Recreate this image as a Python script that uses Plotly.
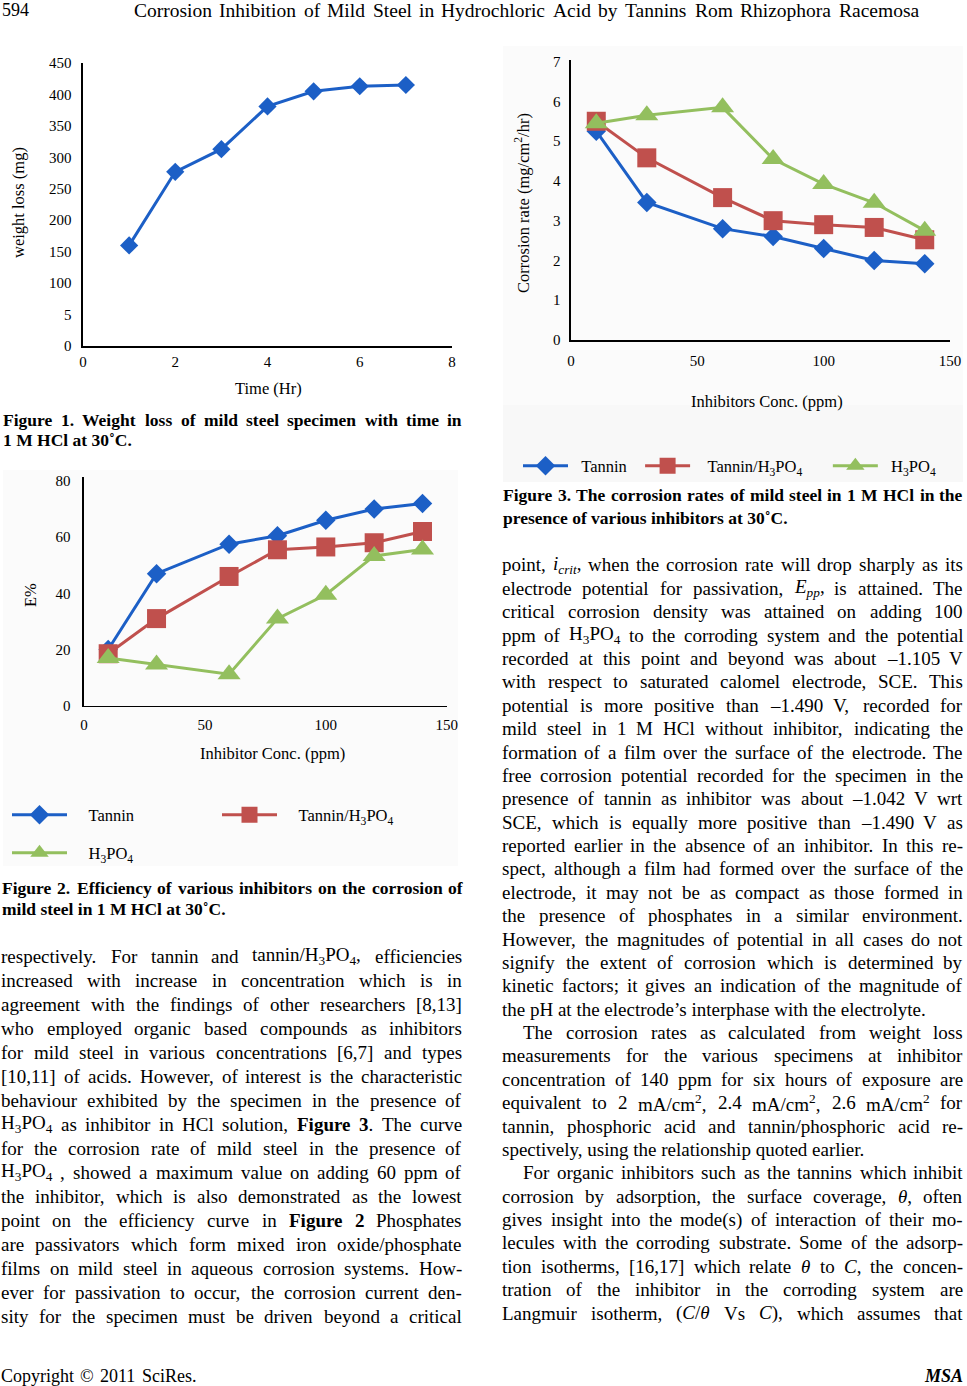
import re
import plotly.graph_objects as go

W, H = 967, 1386
SERIF = "Liberation Serif, Times New Roman, Times, serif"
NB = "\u00a0"

# ---------------- data ----------------
time_hr = [1, 2, 3, 4, 5, 6, 7]
weight_loss_mg = [160, 277, 313, 381, 405, 413, 415]
weight_ticks = [0, 50, 100, 150, 200, 250, 300, 350, 400, 450]
weight_ticktext = ["0", "5", "100", "150", "200", "250", "300", "350", "400", "450"]
time_ticks = [0, 2, 4, 6, 8]

conc_ppm = [10, 30, 60, 80, 100, 120, 140]
eff_tannin = [20, 47, 57.5, 60.5, 66, 70, 72]
eff_tannin_h3po4 = [18.5, 31, 46, 55.5, 56.5, 58, 62]
eff_h3po4 = [17, 14.7, 11.2, 31, 39.5, 53.3, 55.6]
eff_ticks = [0, 20, 40, 60, 80]

rate_tannin = [5.25, 3.46, 2.8, 2.6, 2.3, 2.0, 1.92]
rate_tannin_h3po4 = [5.5, 4.58, 3.58, 3.0, 2.9, 2.83, 2.52]
rate_h3po4 = [5.45, 5.65, 5.85, 4.55, 3.92, 3.45, 2.75]
rate_ticks = [0, 1, 2, 3, 4, 5, 6, 7]
conc_ticks = [0, 50, 100, 150]

series_names = ["Tannin", "Tannin/H<sub>3</sub>PO<sub>4</sub>", "H<sub>3</sub>PO<sub>4</sub>"]
series_colors = ["#1c5fc6", "#c0504d", "#93bf5e"]
series_symbols = ["diamond", "square", "triangle-up"]
series_sizes = [15, 19, 20]

header_num = "594"
header_title = "Corrosion Inhibition of Mild Steel in Hydrochloric Acid by Tannins Rom Rhizophora Racemosa"
footer_left = "Copyright © 2011 SciRes."
footer_right = "MSA"

caption1 = ["Figure 1. Weight loss of mild steel specimen with time in", "1  M HCl at 30˚C."]
caption2 = ["Figure 2. Efficiency of various inhibitors on the corrosion of", "mild steel in 1  M HCl at 30˚C."]
caption3 = ["Figure 3. The corrosion rates of mild steel in 1 M HCl in the", "presence of various inhibitors at 30˚C."]

left_lines = [
    "respectively. For tannin and tannin/H<sub>3</sub>PO<sub>4</sub>, efficiencies",
    "increased with increase in concentration which is in",
    "agreement with the findings of other researchers [8,13]",
    "who employed organic based compounds as inhibitors",
    "for mild steel in various concentrations [6,7] and types",
    "[10,11] of acids. However, of interest is the characteristic",
    "behaviour exhibited by the specimen in the presence of",
    "H<sub>3</sub>PO<sub>4</sub> as inhibitor in HCl solution, <b>Figure</b> <b>3</b>. The curve",
    "for the corrosion rate of mild steel in the presence of",
    "H<sub>3</sub>PO<sub>4</sub> , showed a maximum value on adding 60 ppm of",
    "the inhibitor, which is also demonstrated as the lowest",
    "point on the efficiency curve in <b>Figure</b> <b>2</b>  Phosphates",
    "are passivators which form mixed iron oxide/phosphate",
    "films on mild steel in aqueous corrosion systems. How-",
    "ever for passivation to occur, the corrosion current den-",
    "sity for the specimen must be driven beyond a critical",
]

right_lines = [
    "point, <i>i</i><sub><i>crit</i></sub>, when the corrosion rate will drop sharply as its",
    "electrode potential for passivation, <i>E</i><sub><i>pp</i></sub>, is attained. The",
    "critical corrosion density was attained on adding 100",
    "ppm of H<sub>3</sub>PO<sub>4</sub> to the corroding system and the potential",
    "recorded at this point and beyond was about –1.105 V",
    "with respect to saturated calomel electrode, SCE. This",
    "potential is more positive than –1.490 V, recorded for",
    "mild steel in 1 M HCl without inhibitor, indicating the",
    "formation of a film over the surface of the electrode. The",
    "free corrosion potential recorded for the specimen in the",
    "presence of tannin as inhibitor was about –1.042 V wrt",
    "SCE, which is equally more positive than –1.490 V as",
    "reported earlier in the absence of an inhibitor. In this re-",
    "spect, although a film had formed over the surface of the",
    "electrode, it may not be as compact as those formed in",
    "the presence of phosphates in a similar environment.",
    "However, the magnitudes of potential in all cases do not",
    "signify the extent of corrosion which is determined by",
    "kinetic factors; it gives an indication of the magnitude of",
    "the pH at the electrode’s interphase with the electrolyte.",
    "The corrosion rates as calculated from weight loss",
    "measurements for the various specimens at inhibitor",
    "concentration of 140 ppm for six hours of exposure are",
    "equivalent to 2 mA/cm<sup>2</sup>, 2.4 mA/cm<sup>2</sup>, 2.6 mA/cm<sup>2</sup> for",
    "tannin, phosphoric acid and tannin/phosphoric acid re-",
    "spectively, using the relationship quoted earlier.",
    "For organic inhibitors such as the tannins which inhibit",
    "corrosion by adsorption, the surface coverage, <i>θ</i>, often",
    "gives insight into the mode(s) of interaction of their mo-",
    "lecules with the corroding substrate. Some of the adsorp-",
    "tion isotherms, [16,17] which relate <i>θ</i> to <i>C</i>, the concen-",
    "tration of the inhibitor in the corroding system are",
    "Langmuir isotherm, (<i>C</i>/<i>θ</i> Vs <i>C</i>), which assumes that",
]
right_para_end = {19, 25}
right_para_start = {20, 26}

# ---------------- text metrics (Times-like advance widths, 1/1000 em) ----------------
REG = dict(zip(" !\"#$%&'()*+,-./0123456789:;<=>?@", [250,333,408,500,500,833,778,180,333,333,500,564,250,333,250,278] + [500]*10 + [278,278,564,564,564,444,921]))
REG.update(dict(zip("ABCDEFGHIJKLMNOPQRSTUVWXYZ", [722,667,667,722,611,556,722,722,333,389,722,611,889,722,722,556,722,667,556,611,722,722,944,722,722,611])))
REG.update(dict(zip("abcdefghijklmnopqrstuvwxyz", [444,500,444,500,444,333,500,500,278,278,500,278,778,500,500,500,500,333,389,278,500,500,722,500,500,444])))
REG.update({"[": 333, "]": 333, "–": 500, "’": 333, "˚": 400, "©": 760, "θ": 500})
BOLD = dict(REG)
BOLD.update(dict(zip("ABCDEFGHIJKLMNOPQRSTUVWXYZ", [722,667,722,722,667,611,778,778,389,500,778,667,944,722,778,611,778,722,556,667,722,722,1000,722,722,667])))
BOLD.update(dict(zip("abcdefghijklmnopqrstuvwxyz", [500,556,444,556,444,333,500,556,278,333,556,278,833,556,500,556,556,444,389,333,556,500,722,500,500,444])))

TOKEN = re.compile(r"<(/?)(sub|sup|b|i)>|.")


def text_width(s, size, bold=False):
    w, scale, b = 0.0, 1.0, bold
    for m in TOKEN.finditer(s):
        if m.group(2):
            closing = m.group(1) == "/"
            tag = m.group(2)
            if tag in ("sub", "sup"):
                scale = 1.0 if closing else 0.7
            elif tag == "b":
                b = bold if closing else True
            continue
        table = BOLD if b else REG
        w += table.get(m.group(0), 500) * scale
    return w * size / 1000.0


annotations = []


def add_text(text, x, y, size, xanchor="left", bold=False, italic=False, angle=0, color="black"):
    t = text
    if italic:
        t = "<i>" + t + "</i>"
    if bold:
        t = "<b>" + t + "</b>"
    annotations.append(dict(text=t, x=x / W, y=1 - y / H, xref="paper", yref="paper",
                            showarrow=False, xanchor=xanchor, yanchor="middle", borderpad=0, borderwidth=0,
                            textangle=angle, font=dict(family=SERIF, size=size, color=color)))


def add_line(text, x0, x1, y, size, bold=False, justify=True, indent=0):
    words = [w for w in text.split(" ") if w]
    if not justify or len(words) < 2:
        add_text(" ".join(words), x0 + indent, y, size, bold=bold)
        return
    widths = [text_width(w, size, bold) for w in words]
    gap = (x1 - x0 - indent - sum(widths)) / (len(words) - 1)
    x = x0 + indent
    for i, (w, ww) in enumerate(zip(words, widths)):
        if i == len(words) - 1:
            add_text(w, x1, y, size, xanchor="right", bold=bold)
        else:
            add_text(w, x, y, size, bold=bold)
        x += ww + gap


# header / footer
add_text(header_num, 2, 10, 18)
add_line(header_title, 134, 919, 10, 19.5)
add_line(footer_left, 1, 197, 1376, 18)
add_text(footer_right, 963, 1376, 18, xanchor="right", bold=True, italic=True)

# captions
CAP = 17.5
add_line(caption1[0], 3, 462, 420, CAP, bold=True)
add_line(caption1[1], 3, 462, 440, CAP, bold=True, justify=False)
add_line(caption2[0], 2, 463, 888, CAP, bold=True)
add_line(caption2[1], 2, 463, 909, CAP, bold=True, justify=False)
add_line(caption3[0], 503, 963, 495, CAP, bold=True)
add_line(caption3[1], 503, 963, 518, CAP, bold=True, justify=False)

# body text
BODY = 19
for i, line in enumerate(left_lines):
    add_line(line, 1, 462, 956 + 24.0 * i, BODY)
for i, line in enumerate(right_lines):
    add_line(line, 502, 963, 565 + 23.375 * i, BODY,
             justify=i not in right_para_end,
             indent=21 if i in right_para_start else 0)

# axis titles
AX = 16.5
add_text("weight loss (mg)", 19, 203, AX, xanchor="center", angle=-90)
add_text("Time (Hr)", 268, 388, AX, xanchor="center")
add_text("E%", 30, 595, AX, xanchor="center", angle=-90)
add_text("Inhibitor Conc. (ppm)", 272, 753, AX, xanchor="center")
add_text("Corrosion rate (mg/cm<sup>2</sup>/hr)", 523, 203, AX, xanchor="center", angle=-90)
add_text("Inhibitors Conc. (ppm)", 767, 401, AX, xanchor="center")

# ---------------- traces ----------------
fig = go.Figure()

fig.add_trace(go.Scatter(x=time_hr, y=weight_loss_mg, mode="lines+markers", xaxis="x", yaxis="y",
                         line=dict(color=series_colors[0], width=3),
                         marker=dict(symbol="diamond", size=14, color=series_colors[0]),
                         showlegend=False, cliponaxis=False))

# legend label padding (non-breaking spaces) to match the reference's legend spacing
fig2_labels = [NB * 4 + n for n in series_names]
fig3_labels = [NB * 2 + series_names[0] + NB * 2,
               NB * 3 + series_names[1] + NB * 5,
               NB * 2 + series_names[2]]

eff_series = [eff_tannin, eff_tannin_h3po4, eff_h3po4]
for k, ys in enumerate(eff_series):
    fig.add_trace(go.Scatter(x=conc_ppm, y=ys, mode="lines+markers", xaxis="x2", yaxis="y2",
                             name=fig2_labels[k], legend="legend" if k < 2 else "legend2",
                             line=dict(color=series_colors[k], width=3),
                             marker=dict(symbol=series_symbols[k], size=series_sizes[k], color=series_colors[k]),
                             cliponaxis=False))

rate_series = [rate_tannin, rate_tannin_h3po4, rate_h3po4]
for k, ys in enumerate(rate_series):
    fig.add_trace(go.Scatter(x=conc_ppm, y=ys, mode="lines+markers", xaxis="x3", yaxis="y3",
                             name=fig3_labels[k], legend="legend3",
                             line=dict(color=series_colors[k], width=3),
                             marker=dict(symbol=series_symbols[k], size=series_sizes[k], color=series_colors[k]),
                             cliponaxis=False))


def axis(domain, rng, tickvals, ticklen, anchor, ticktext=None):
    d = dict(domain=domain, range=rng, tickvals=tickvals, anchor=anchor, automargin=False,
             showgrid=False, zeroline=False, showline=True, linecolor="black", linewidth=1.6,
             ticks="outside", ticklen=ticklen, tickcolor="rgba(0,0,0,0)",
             tickfont=dict(family=SERIF, size=15, color="black"), fixedrange=True)
    if ticktext is not None:
        d["ticktext"] = ticktext
    return d


def py(p):
    return 1 - p / H


legend_font = dict(family=SERIF, size=16.5, color="black")
fig.update_layout(
    width=W, height=H, margin=dict(l=0, r=0, t=0, b=0, pad=0, autoexpand=False),
    paper_bgcolor="white", plot_bgcolor="rgba(0,0,0,0)",
    xaxis=axis([83 / W, 452 / W], [0, 8], time_ticks, 1, "y"),
    yaxis=axis([py(346), py(63)], [0, 450], weight_ticks, 7, "x", weight_ticktext),
    xaxis2=axis([84 / W, 446.7 / W], [0, 150], conc_ticks, 5, "y2"),
    yaxis2=axis([py(705.7), py(477)], [0, 81.4], eff_ticks, 9, "x2"),
    xaxis3=axis([571 / W, 950 / W], [0, 150], conc_ticks, 6, "y3"),
    yaxis3=axis([py(340), py(60)], [0, 7.04], rate_ticks, 6, "x3"),
    legend=dict(orientation="h", x=7 / W, xanchor="left", y=py(815), yanchor="middle",
                font=legend_font, bgcolor="rgba(0,0,0,0)", itemwidth=55,
                entrywidth=140, entrywidthmode="pixels"),
    legend2=dict(orientation="h", x=7 / W, xanchor="left", y=py(853), yanchor="middle",
                 font=legend_font, bgcolor="rgba(0,0,0,0)", itemwidth=55),
    legend3=dict(orientation="h", x=518 / W, xanchor="left", y=py(466), yanchor="middle",
                 font=legend_font, bgcolor="rgba(0,0,0,0)", itemwidth=45),
    annotations=annotations,
    shapes=[
        dict(type="rect", xref="paper", yref="paper", x0=503 / W, x1=963 / W, y0=py(432), y1=py(46),
             fillcolor="#fbfbfb", line=dict(width=0), layer="below"),
        dict(type="rect", xref="paper", yref="paper", x0=503 / W, x1=963 / W, y0=py(482), y1=py(405),
             fillcolor="#f8f8f8", line=dict(width=0), layer="below"),
        dict(type="rect", xref="paper", yref="paper", x0=3 / W, x1=458 / W, y0=py(866), y1=py(470),
             fillcolor="#fbfbfb", line=dict(width=0), layer="below"),
    ],
)

fig.write_html("out.html", config={"displayModeBar": False, "staticPlot": True},
               post_script="document.documentElement.style.margin='0';document.body.style.margin='0';"
                           "document.body.style.overflow='hidden';")
